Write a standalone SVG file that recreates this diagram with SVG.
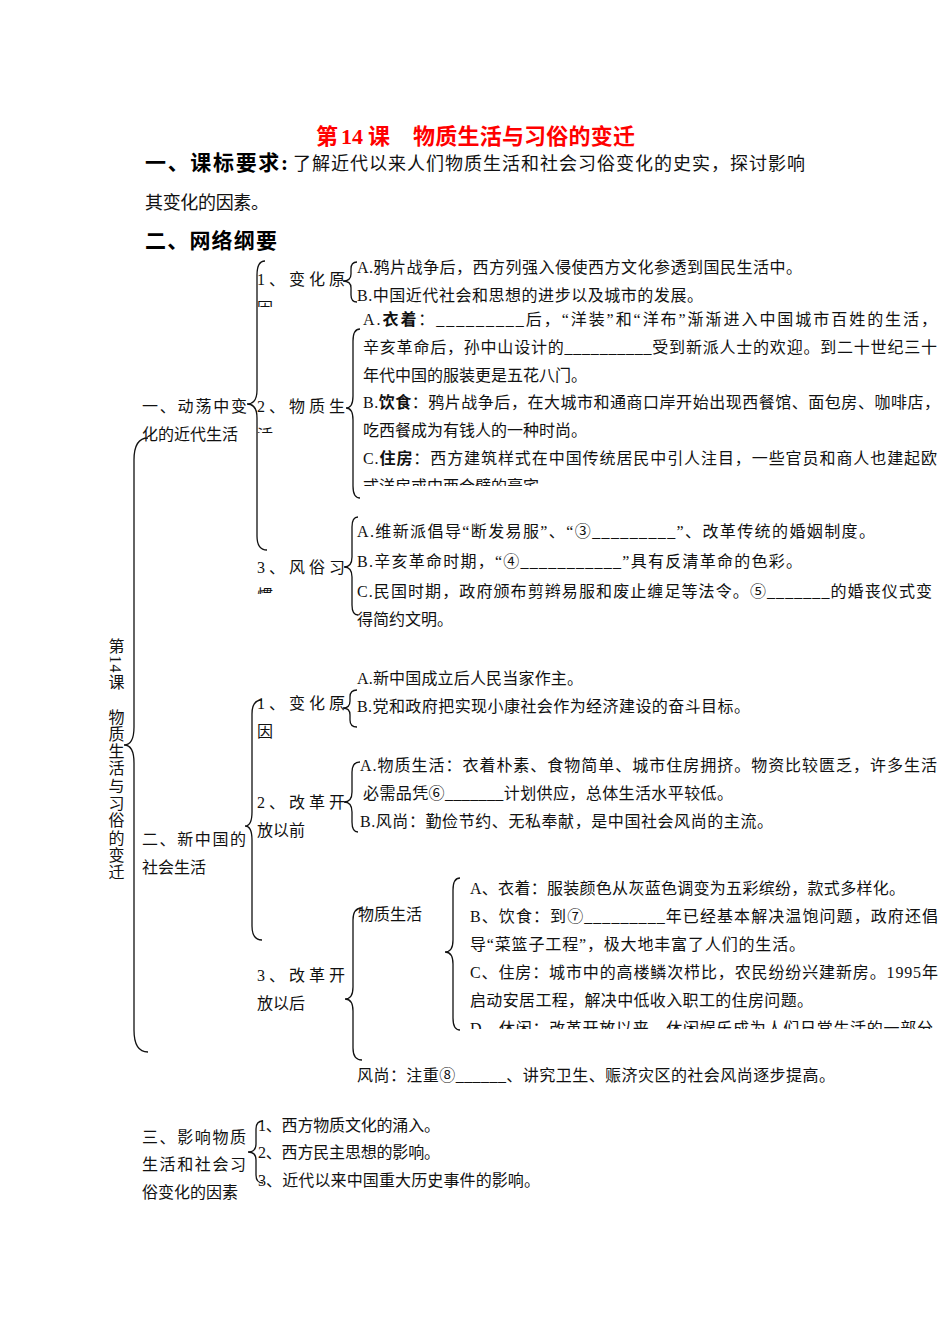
<svg xmlns="http://www.w3.org/2000/svg" width="950" height="1344" viewBox="0 0 950 1344">
<style>
.t{font-family:"Liberation Serif","Noto Sans CJK SC",serif;font-size:16px;fill:#111}
.b{font-weight:bold}
.h{font-family:"Liberation Serif","Noto Sans CJK SC",serif;font-size:21px;font-weight:bold;fill:#000}
.m{font-family:"Liberation Serif","Noto Sans CJK SC",serif;font-size:18px;fill:#111}
.title{font-family:"Liberation Serif","Noto Sans CJK SC",serif;font-size:22px;font-weight:bold;fill:#f00}
.br{fill:none;stroke:#111;stroke-width:1.3}
.v{font-family:"Liberation Serif","Noto Sans CJK SC",serif;font-size:16px;fill:#111;writing-mode:vertical-rl;letter-spacing:1.3px}
</style>
<defs>
<clipPath id="c1"><rect x="250" y="290" width="100" height="17"/></clipPath>
<clipPath id="c2"><rect x="250" y="418" width="100" height="15"/></clipPath>
<clipPath id="c3"><rect x="250" y="578" width="100" height="16"/></clipPath>
<clipPath id="c4"><rect x="355" y="470" width="600" height="16"/></clipPath>
<clipPath id="c5"><rect x="465" y="1012" width="480" height="17"/></clipPath>
</defs>
<rect width="950" height="1344" fill="#fff"/>

<g id="title">
<text class="title" y="144"><tspan x="316">第</tspan><tspan x="341">14</tspan><tspan x="368">课</tspan><tspan x="413" textLength="222" lengthAdjust="spacing">物质生活与习俗的变迁</tspan></text>
</g>
<g id="header">
<text class="h" x="145" y="170" textLength="143" lengthAdjust="spacing">一、课标要求:</text>
<text class="m" x="293" y="170" textLength="512" lengthAdjust="spacing">了解近代以来人们物质生活和社会习俗变化的史实，探讨影响</text>
<text class="m" x="145" y="209" textLength="124" lengthAdjust="spacing">其变化的因素。</text>
<text class="h" x="145" y="248" textLength="132" lengthAdjust="spacing">二、网络纲要</text>
</g>

<g id="root">
<text class="v" x="115" y="638">第14课　物质生活与习俗的变迁</text>
</g>

<g id="connectors">
<path class="br" d="M148 438 Q134 438 134 460 L134 727 Q134 745 124 745 Q134 745 134 763 L134 1030 Q134 1052 148 1052"/>
<path class="br" d="M265 261 Q257 261 257 275 L257 390 Q257 404 247 404 Q257 404 257 418 L257 536 Q257 550 267 550"/>
<path class="br" d="M357 262 Q351 262 351 269 L351 274 Q351 281 343 281 Q351 281 351 288 L351 295 Q351 302 357 302"/>
<path class="br" d="M360 329 Q353 329 353 341 L353 396 Q353 408 346 408 Q353 408 353 420 L353 486 Q353 498 360 498"/>
<path class="br" d="M358 517 Q352 517 352 527 L352 557 Q352 567 344 567 Q352 567 352 577 L352 605 Q352 615 358 615"/>
<path class="br" d="M262 700 Q252 700 252 714 L252 812 Q252 826 245 826 Q252 826 252 840 L252 926 Q252 940 262 940"/>
<path class="br" d="M357 690 Q350 690 350 697 L350 701 Q350 708 343 708 Q350 708 350 715 L350 720 Q350 727 357 727"/>
<path class="br" d="M360 762 Q352 762 352 772 L352 792 Q352 802 344 802 Q352 802 352 812 L352 822 Q352 832 358 832"/>
<path class="br" d="M362 908 Q353 908 353 920 L353 987 Q353 999 345 999 Q353 999 353 1011 L353 1048 Q353 1060 362 1060"/>
<path class="br" d="M460 878 Q453 878 453 890 L453 940 Q453 952 445 952 Q453 952 453 964 L453 1018 Q453 1030 460 1030"/>
<path class="br" d="M263 1121 Q256 1121 256 1129 L256 1144 Q256 1152 248 1152 Q256 1152 256 1160 L256 1175 Q256 1183 263 1183"/>
</g>

<g id="sec1">
<text class="t" x="142" y="412" textLength="105" lengthAdjust="spacing">一、动荡中变</text>
<text class="t" x="142" y="440">化的近代生活</text>
</g>
<g id="sec1-1">
<text class="t" x="257" y="285" textLength="88" lengthAdjust="spacing">1、变化原</text>
<text class="t" x="257" y="314" clip-path="url(#c1)">因</text>
</g>
<g id="sec1-1-items">
<text class="t" x="357" y="273" textLength="445" lengthAdjust="spacing">A.鸦片战争后，西方列强入侵使西方文化参透到国民生活中。</text>
<text class="t" x="357" y="301" textLength="346" lengthAdjust="spacing">B.中国近代社会和思想的进步以及城市的发展。</text>
</g>
<g id="sec1-2">
<text class="t" x="257" y="412" textLength="88" lengthAdjust="spacing">2、物质生</text>
<text class="t" x="257" y="441" clip-path="url(#c2)">活</text>
</g>
<g id="sec1-2-items">
<text class="t" x="363" y="325" textLength="574" lengthAdjust="spacing">A.<tspan class="b">衣着</tspan>：_________后，“洋装”和“洋布”渐渐进入中国城市百姓的生活，</text>
<text class="t" x="363" y="353" textLength="574" lengthAdjust="spacing">辛亥革命后，孙中山设计的__________受到新派人士的欢迎。到二十世纪三十</text>
<text class="t" x="363" y="381">年代中国的服装更是五花八门。</text>
<text class="t" x="363" y="408" textLength="577" lengthAdjust="spacing">B.<tspan class="b">饮食</tspan>：鸦片战争后，在大城市和通商口岸开始出现西餐馆、面包房、咖啡店，</text>
<text class="t" x="363" y="436">吃西餐成为有钱人的一种时尚。</text>
<text class="t" x="363" y="464" textLength="574" lengthAdjust="spacing">C.<tspan class="b">住房</tspan>：西方建筑样式在中国传统居民中引人注目，一些官员和商人也建起欧</text>
<text class="t" x="363" y="492" clip-path="url(#c4)">式洋房或中西合璧的豪宅</text>
</g>
<g id="sec1-3">
<text class="t" x="257" y="573" textLength="88" lengthAdjust="spacing">3、风俗习</text>
<text class="t" x="257" y="601" clip-path="url(#c3)">惯</text>
</g>
<g id="sec1-3-items">
<text class="t" x="357" y="537" textLength="518" lengthAdjust="spacing">A.维新派倡导“断发易服”、“③_________”、改革传统的婚姻制度。</text>
<text class="t" x="357" y="567" textLength="445" lengthAdjust="spacing">B.辛亥革命时期，“④___________”具有反清革命的色彩。</text>
<text class="t" x="357" y="597" textLength="575" lengthAdjust="spacing">C.民国时期，政府颁布剪辫易服和废止缠足等法令。⑤_______的婚丧仪式变</text>
<text class="t" x="357" y="625">得简约文明。</text>
</g>

<g id="sec2">
<text class="t" x="142" y="845" textLength="104" lengthAdjust="spacing">二、新中国的</text>
<text class="t" x="142" y="873">社会生活</text>
</g>
<g id="sec2-1">
<text class="t" x="257" y="709" textLength="88" lengthAdjust="spacing">1、变化原</text>
<text class="t" x="257" y="737">因</text>
</g>
<g id="sec2-1-items">
<text class="t" x="357" y="684" textLength="226" lengthAdjust="spacing">A.新中国成立后人民当家作主。</text>
<text class="t" x="357" y="712" textLength="393" lengthAdjust="spacing">B.党和政府把实现小康社会作为经济建设的奋斗目标。</text>
</g>
<g id="sec2-2">
<text class="t" x="257" y="808" textLength="88" lengthAdjust="spacing">2、改革开</text>
<text class="t" x="257" y="836">放以前</text>
</g>
<g id="sec2-2-items">
<text class="t" x="360" y="771" textLength="577" lengthAdjust="spacing">A.物质生活：衣着朴素、食物简单、城市住房拥挤。物资比较匮乏，许多生活</text>
<text class="t" x="363" y="799" textLength="370" lengthAdjust="spacing">必需品凭⑥_______计划供应，总体生活水平较低。</text>
<text class="t" x="360" y="827" textLength="413" lengthAdjust="spacing">B.风尚：勤俭节约、无私奉献，是中国社会风尚的主流。</text>
</g>
<g id="sec2-3">
<text class="t" x="257" y="981" textLength="88" lengthAdjust="spacing">3、改革开</text>
<text class="t" x="257" y="1009">放以后</text>
</g>
<g id="sec2-3-material">
<text class="t" x="358" y="920">物质生活</text>
</g>
<g id="sec2-3-material-items">
<text class="t" x="470" y="894" textLength="435" lengthAdjust="spacing">A、衣着：服装颜色从灰蓝色调变为五彩缤纷，款式多样化。</text>
<text class="t" x="470" y="922" textLength="468" lengthAdjust="spacing">B、饮食：到⑦_________年已经基本解决温饱问题，政府还倡</text>
<text class="t" x="470" y="950" textLength="335" lengthAdjust="spacing">导“菜篮子工程”，极大地丰富了人们的生活。</text>
<text class="t" x="470" y="978" textLength="468" lengthAdjust="spacing">C、住房：城市中的高楼鳞次栉比，农民纷纷兴建新房。1995年</text>
<text class="t" x="470" y="1006" textLength="343" lengthAdjust="spacing">启动安居工程，解决中低收入职工的住房问题。</text>
<text class="t" x="470" y="1034" textLength="463" lengthAdjust="spacing" clip-path="url(#c5)">D、休闲：改革开放以来，休闲娱乐成为人们日常生活的一部分</text>
</g>
<g id="sec2-3-custom">
<text class="t" x="357" y="1081" textLength="478" lengthAdjust="spacing">风尚：注重⑧______、讲究卫生、赈济灾区的社会风尚逐步提高。</text>
</g>

<g id="sec3">
<text class="t" x="142" y="1143" textLength="104" lengthAdjust="spacing">三、影响物质</text>
<text class="t" x="142" y="1170" textLength="104" lengthAdjust="spacing">生活和社会习</text>
<text class="t" x="142" y="1198">俗变化的因素</text>
</g>
<g id="sec3-items">
<text class="t" x="258" y="1131" textLength="182" lengthAdjust="spacing">1、西方物质文化的涌入。</text>
<text class="t" x="258" y="1158" textLength="182" lengthAdjust="spacing">2、西方民主思想的影响。</text>
<text class="t" x="258" y="1186" textLength="282" lengthAdjust="spacing">3、近代以来中国重大历史事件的影响。</text>
</g>
</svg>
